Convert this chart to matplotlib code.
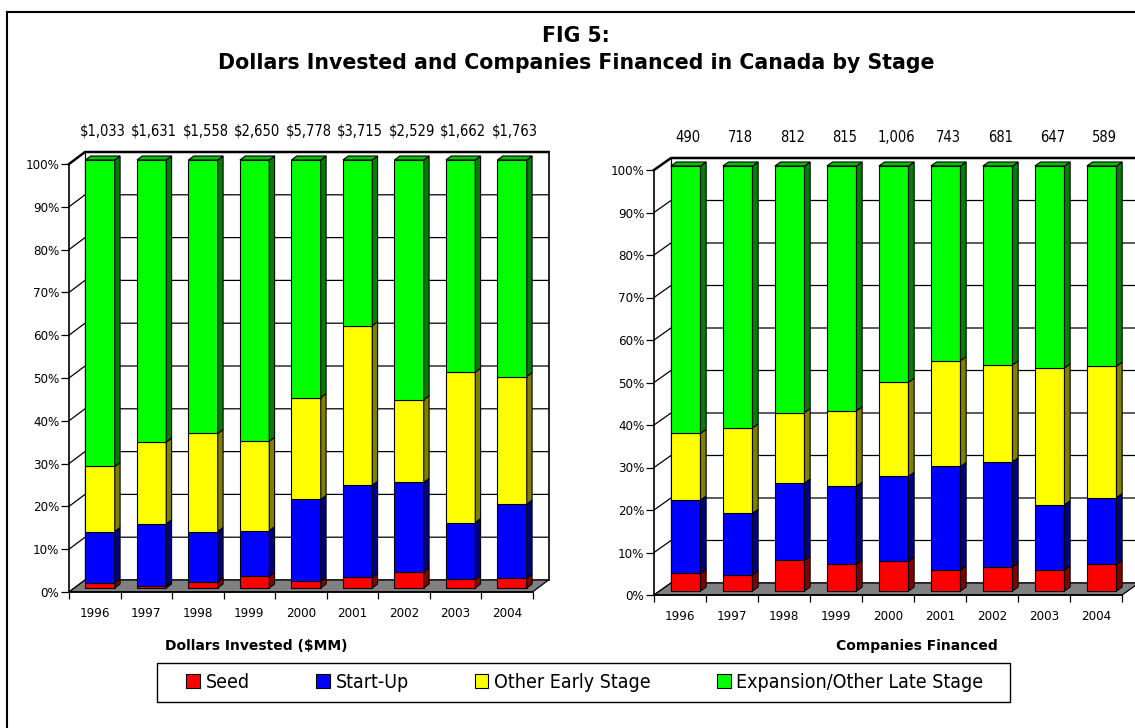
import matplotlib
matplotlib.use("Agg")
import matplotlib.pyplot as plt
from matplotlib.patches import Polygon, Rectangle, Patch
from matplotlib.lines import Line2D
from matplotlib import font_manager
from matplotlib.transforms import blended_transform_factory

# ---- data (percent share of each stage) ----
years = ["1996", "1997", "1998", "1999", "2000", "2001", "2002", "2003", "2004"]
dollars_totals = ["$1,033", "$1,631", "$1,558", "$2,650", "$5,778", "$3,715", "$2,529", "$1,662", "$1,763"]
companies_totals = ["490", "718", "812", "815", "1,006", "743", "681", "647", "589"]

seed_dollars = [1.2, 0.5, 1.5, 2.7, 1.6, 2.5, 3.8, 2.0, 2.3]
startup_dollars = [12.0, 14.5, 11.7, 10.7, 19.1, 21.5, 20.9, 13.3, 17.3]
early_dollars = [15.2, 19.1, 22.9, 20.9, 23.8, 37.3, 19.3, 35.1, 29.8]
late_dollars = [71.6, 65.9, 63.9, 65.7, 55.5, 38.7, 56.0, 49.6, 50.6]

seed_companies = [4.2, 3.8, 7.2, 6.3, 7.0, 5.0, 5.7, 5.0, 6.3]
startup_companies = [17.2, 14.5, 18.2, 18.4, 20.0, 24.3, 24.7, 15.3, 15.7]
early_companies = [15.7, 20.1, 16.6, 17.7, 22.1, 24.9, 22.8, 32.2, 30.9]
late_companies = [62.9, 61.6, 58.0, 57.6, 50.9, 45.8, 46.8, 47.5, 47.1]

stage_names = ["Seed", "Start-Up", "Other Early Stage", "Expansion/Other Late Stage"]
face_colors = ["#FF0000", "#0000FF", "#FFFF00", "#00FF00"]
side_colors = ["#800000", "#000080", "#808000", "#008000"]
top_color = "#00C000"

# narrow font if the condensed DejaVu is installed
has_condensed = any(f.name == "DejaVu Sans" and f.stretch == "condensed"
                    for f in font_manager.fontManager.ttflist)
if has_condensed:
    narrow = dict(family="DejaVu Sans", stretch="condensed")
else:
    narrow = dict(family="Liberation Sans", stretch="normal")

W, H = 1135, 728
fig = plt.figure(figsize=(W / 100, H / 100), dpi=100)


def draw_panel(x0, y0, cat_px, pct_px, depth, stages, totals, totals_y):
    n = len(years)
    dxc = depth[0] / cat_px
    dyp = depth[1] / pct_px
    ax = fig.add_axes([x0 / W, (H - y0) / H, (n + dxc) * cat_px / W, (100 + dyp) * pct_px / H])
    ax.set_xlim(0, n + dxc)
    ax.set_ylim(0, 100 + dyp)
    ax.patch.set_visible(False)
    ax.spines["top"].set_visible(False)
    ax.spines["right"].set_visible(False)
    ax.spines["left"].set_bounds(0, 100)
    ax.spines["bottom"].set_bounds(0, n)
    for s in ["left", "bottom"]:
        ax.spines[s].set_linewidth(1.2)
        ax.spines[s].set_zorder(6)

    # back wall + side wall gridlines
    for v in range(0, 101, 10):
        ax.plot([0, dxc, n + dxc], [v, v + dyp, v + dyp], color="black",
                lw=1.8 if v == 100 else 0.9, clip_on=False, zorder=1)
    ax.plot([dxc, dxc], [dyp, 100 + dyp], color="black", lw=0.9, clip_on=False, zorder=1)
    ax.plot([n + dxc, n + dxc], [dyp, 100 + dyp], color="black", lw=1.2, clip_on=False, zorder=1)

    # floor
    ax.add_patch(Polygon([(0, 0), (n, 0), (n + dxc, dyp), (dxc, dyp)], closed=True,
                         fc="#808080", ec="black", lw=0.9, zorder=2, clip_on=False))

    # 3D stacked bars
    w = 0.57
    fx, fy = dxc / 3, dyp / 3
    for i in range(n):
        left = i + 0.5 - w / 2 + fx
        base = 0.0
        for k, vals in enumerate(stages):
            h = vals[i]
            b = base + fy
            t = b + h
            ax.add_patch(Rectangle((left, b), w, h, fc=face_colors[k], ec="black",
                                   lw=0.8, zorder=3, clip_on=False))
            ax.add_patch(Polygon([(left + w, b), (left + w + fx, b + fy),
                                  (left + w + fx, t + fy), (left + w, t)], closed=True,
                                 fc=side_colors[k], ec="black", lw=0.8, zorder=3, clip_on=False))
            base += h
        t = base + fy
        ax.add_patch(Polygon([(left, t), (left + w, t), (left + w + fx, t + fy), (left + fx, t + fy)],
                             closed=True, fc=top_color, ec="black", lw=0.8, zorder=3, clip_on=False))

    # ticks
    ax.set_yticks(range(0, 101, 10))
    ax.set_yticklabels([f"{v}%" for v in range(0, 101, 10)])
    ax.tick_params(axis="y", length=6, width=0.9, pad=1, labelsize=9.5)
    ax.set_xticks(range(n + 1))
    ax.set_xticklabels([])
    ax.tick_params(axis="x", which="major", length=5, width=0.9)
    ax.set_xticks([i + 0.5 for i in range(n)], minor=True)
    ax.set_xticklabels(years, minor=True)
    ax.tick_params(axis="x", which="minor", length=0, pad=11, labelsize=9.5)
    for lab in ax.get_yticklabels() + ax.get_xticklabels(minor=True):
        lab.set_family(narrow["family"])
        lab.set_stretch(narrow["stretch"])

    # totals above each bar
    trans = blended_transform_factory(ax.transData, fig.transFigure)
    for i, lab in enumerate(totals):
        ax.text(i + 0.5 + fx + 0.05, 1 - totals_y / H, lab, transform=trans,
                ha="center", va="center", fontsize=10.5, **narrow)
    return ax


draw_panel(69, 592, 51.5, 4.28, (16, 12),
           [seed_dollars, startup_dollars, early_dollars, late_dollars],
           dollars_totals, 131)
draw_panel(654, 595, 52.0, 4.25, (17, 12),
           [seed_companies, startup_companies, early_companies, late_companies],
           companies_totals, 137)

# titles
fig.text(576 / W, 1 - 36 / H, "FIG 5:", ha="center", va="center",
         fontsize=14.8, fontweight="bold", family="DejaVu Sans")
fig.text(576 / W, 1 - 63 / H, "Dollars Invested and Companies Financed in Canada by Stage",
         ha="center", va="center", fontsize=14.8, fontweight="bold", family="DejaVu Sans")
fig.text(165 / W, 1 - 646 / H, "Dollars Invested ($MM)", ha="left", va="center",
         fontsize=10, fontweight="bold", family="DejaVu Sans")
fig.text(998 / W, 1 - 646 / H, "Companies Financed", ha="right", va="center",
         fontsize=10, fontweight="bold", family="DejaVu Sans")

# legend with its own box
fig.add_artist(Rectangle((157 / W, 1 - 702 / H), (1010 - 157) / W, 39 / H,
                         transform=fig.transFigure, fc="white", ec="black", lw=1.0))
handles = [Patch(fc=c, ec="black", lw=0.8) for c in face_colors]
leg = fig.legend(handles, stage_names, loc="center", bbox_to_anchor=(585 / W, 1 - 682 / H),
                 ncol=4, frameon=False, handlelength=0.7, handleheight=0.7,
                 handletextpad=0.3, columnspacing=3.4, prop=dict(size=14, **narrow))

# outer frame (left and top edges)
fig.add_artist(Line2D([7 / W, 7 / W], [0, 1 - 12 / H], color="black", lw=1.5, transform=fig.transFigure))
fig.add_artist(Line2D([7 / W, 1], [1 - 12 / H, 1 - 12 / H], color="black", lw=1.5, transform=fig.transFigure))

fig.savefig("out.png", dpi=100)
